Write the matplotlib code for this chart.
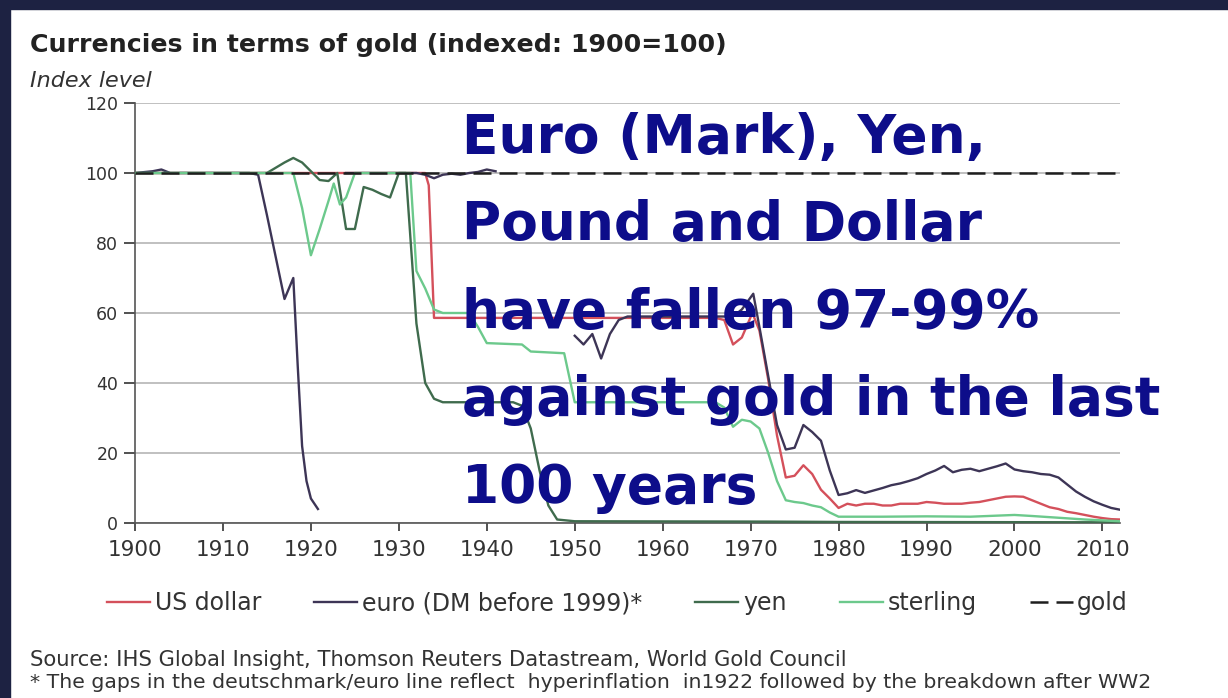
import numpy as np
import matplotlib.pyplot as plt
from matplotlib.patches import Rectangle

# Dados (índice: 1900 = 100)
usd_anos = [1900, 1933, 1933.4, 1934, 1966, 1967, 1968, 1969, 1970.2, 1971, 1972, 1973,
            1974, 1975, 1976, 1977, 1978, 1979, 1980, 1981, 1982, 1983, 1984, 1985,
            1986, 1987, 1988, 1989, 1990, 1991, 1992, 1993, 1994, 1995, 1996, 1997,
            1998, 1999, 2000, 2001, 2002, 2003, 2004, 2005, 2006, 2007, 2008, 2009,
            2010, 2011, 2012]
usd_valores = [100, 100, 96.5, 58.6, 58.6, 58, 51, 53, 60, 55, 41, 25,
               13, 13.5, 16.5, 14, 9.5, 7, 4.3, 5.5, 5, 5.5, 5.5, 5,
               5, 5.5, 5.5, 5.5, 6, 5.8, 5.5, 5.5, 5.5, 5.8, 6, 6.5,
               7, 7.5, 7.6, 7.5, 6.5, 5.5, 4.5, 4, 3.2, 2.8, 2.3, 1.8,
               1.4, 1.1, 1.0]

euro_anos = [1900, 1902, 1903, 1904, 1913, 1914, 1915, 1916, 1917, 1918, 1918.5, 1919,
             1919.5, 1920, 1920.8, 1922, 1924, 1932, 1933, 1934, 1935, 1936, 1937,
             1938, 1939, 1940, 1941, 1945, 1950, 1951, 1952, 1953, 1954, 1955, 1956,
             1968, 1969, 1970.3, 1971, 1972, 1973, 1974, 1975, 1976, 1977, 1978, 1979,
             1980, 1981, 1982, 1983, 1984, 1985, 1986, 1987, 1988, 1989, 1990, 1991,
             1992, 1993, 1994, 1995, 1996, 1997, 1998, 1999, 2000, 2001, 2002, 2003,
             2004, 2005, 2006, 2007, 2008, 2009, 2010, 2011, 2012]
euro_valores = [100, 100.5, 101, 100, 100, 99.5, 88, 76, 64, 70, 45, 22,
                12, 7, 4, np.nan, 100, 100, 99.5, 98.5, 99.5, 99.8, 99.5,
                100, 100.3, 101, 100.5, np.nan, 53.5, 51, 54, 47, 54, 58, 59,
                59, 61, 65.5, 56, 42, 28, 21, 21.5, 28, 26, 23.5, 15,
                8, 8.5, 9.4, 8.6, 9.3, 10, 10.8, 11.3, 12, 12.8, 14, 15,
                16.3, 14.5, 15.2, 15.5, 14.8, 15.5, 16.2, 17, 15.3, 14.8, 14.5, 14,
                13.8, 13, 11, 9, 7.5, 6.2, 5.2, 4.3, 3.8]

iene_anos = [1900, 1915, 1916, 1917, 1918, 1919, 1920, 1921, 1922, 1923, 1924, 1925,
             1926, 1927, 1928, 1929, 1930, 1930.8, 1932, 1933, 1934, 1935, 1943, 1944,
             1945, 1946, 1947, 1948, 1950, 1972, 1980, 2012]
iene_valores = [100, 100, 101.5, 103, 104.3, 103, 100.5, 98, 97.7, 100, 84, 84,
                96, 95.2, 94, 93, 100, 100, 57, 40, 35.5, 34.5, 34.5, 33.5,
                27, 15, 5, 1, 0.5, 0.4, 0.3, 0.2]

libra_anos = [1900, 1918, 1919, 1920, 1921, 1922, 1922.6, 1923.3, 1924, 1925, 1931.3, 1932,
              1933, 1934, 1935, 1938, 1939, 1940, 1944, 1945, 1948.8, 1950, 1966, 1967,
              1968, 1969, 1970, 1971, 1972, 1973, 1974, 1975, 1976, 1977, 1978, 1979,
              1980, 1985, 1990, 1995, 2000, 2002, 2005, 2008, 2012]
libra_valores = [100, 100, 90, 76.5, 84, 92, 97, 91, 93, 100, 100, 72,
                 67, 61, 60, 60, 56, 51.4, 51, 49, 48.5, 34.5, 34.5, 33,
                 27.5, 29.5, 29, 27, 20, 12, 6.5, 6, 5.7, 5, 4.5, 3,
                 1.8, 1.8, 1.9, 1.8, 2.3, 2, 1.5, 1, 0.5]

ouro_anos = [1900, 2012]
ouro_valores = [100, 100]

anos_ticks = list(range(1900, 2011, 10))
niveis_ticks = [0, 20, 40, 60, 80, 100, 120]

W, H = 1228, 698
fig = plt.figure(figsize=(W / 100, H / 100), dpi=100)
fig.patch.set_facecolor('white')

# moldura escura (topo e esquerda)
fig.patches.append(Rectangle((0, 1 - 9 / H), 1, 9 / H, transform=fig.transFigure,
                             color='#1d2242', zorder=0))
fig.patches.append(Rectangle((0, 0), 10 / W, 1, transform=fig.transFigure,
                             color='#1d2242', zorder=0))

ax = fig.add_axes([135 / W, (H - 523) / H, (1120 - 135) / W, (523 - 103) / H])

ax.plot(usd_anos, usd_valores, color='#d4505b', lw=1.7, label='US dollar', zorder=3)
ax.plot(euro_anos, euro_valores, color='#3d3556', lw=1.7, label='euro (DM before 1999)*', zorder=3)
ax.plot(iene_anos, iene_valores, color='#3f6b4d', lw=1.7, label='yen', zorder=3)
ax.plot(libra_anos, libra_valores, color='#6cc98c', lw=1.7, label='sterling', zorder=3)
ax.plot(ouro_anos, ouro_valores, color='#1e1e1e', lw=1.8, dashes=[7.2, 3.2],
        label='gold', zorder=4)

ax.set_xlim(1900, 2012)
ax.set_ylim(0, 120)
ax.set_xticks(anos_ticks)
ax.set_yticks(niveis_ticks)
ax.tick_params(axis='x', labelsize=15.5, colors='#333333', length=6, width=1.2, pad=6)
ax.tick_params(axis='y', labelsize=12.5, colors='#333333', length=8, width=1.2, pad=4)
ax.grid(axis='y', color='#b5b5b5', lw=1.2)
ax.set_axisbelow(True)
for s in ['top', 'right']:
    ax.spines[s].set_visible(False)
for s in ['left', 'bottom']:
    ax.spines[s].set_color('#555555')
    ax.spines[s].set_linewidth(1.2)

leg = ax.legend(ncol=5, frameon=False, loc='center left',
                bbox_to_anchor=(107 / W, 1 - 603 / H), bbox_transform=fig.transFigure,
                fontsize=17, handlelength=1.82, handletextpad=0.2, columnspacing=2.25,
                borderpad=0, borderaxespad=0)
for t in leg.get_texts():
    t.set_color('#333333')

def px(x, y):
    return x / W, 1 - y / H

fig.text(*px(30, 45), 'Currencies in terms of gold (indexed: 1900=100)', fontsize=18.2,
         fontweight='bold', color='#222222', va='center', ha='left')
fig.text(*px(30, 81), 'Index level', fontsize=16, style='italic', color='#333333',
         va='center', ha='left')
fig.text(*px(30, 660), 'Source: IHS Global Insight, Thomson Reuters Datastream, World Gold Council',
         fontsize=15.2, color='#333333', va='center', ha='left')
fig.text(*px(30, 683), '* The gaps in the deutschmark/euro line reflect  hyperinflation  in1922 '
         'followed by the breakdown after WW2', fontsize=14.7, color='#333333',
         va='center', ha='left')

# texto sobreposto
linhas = ['Euro (Mark), Yen,', 'Pound and Dollar', 'have fallen 97-99%',
          'against gold in the last', '100 years']
for i, linha in enumerate(linhas):
    fig.text(*px(462, 153 + i * 87.5), linha, fontsize=38.5, fontweight='bold',
             family='DejaVu Sans', color='#0d0d8a', va='baseline', ha='left', zorder=10)

fig.savefig('out.png', dpi=100)
